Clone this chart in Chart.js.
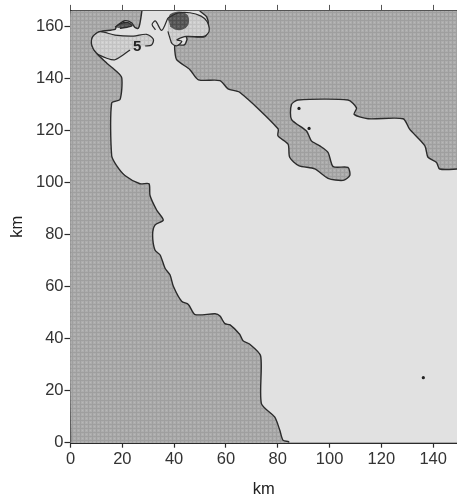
<!DOCTYPE html>
<html>
<head>
<meta charset="utf-8">
<script src="https://cdn.jsdelivr.net/npm/chart.js@4/dist/chart.umd.min.js"></script>
<style>
  body { margin: 0; background: #fff; }
  canvas { display: block; }
</style>
</head>
<body>
<canvas id="myChart" width="457" height="499"></canvas>
<script>
// all values in km
const xTicks = [0, 20, 40, 60, 80, 100, 120, 140];
const yTicks = [0, 20, 40, 60, 80, 100, 120, 140, 160];

const westLand = [
  [0, 0], [0, 167], [27.5, 167], [27.5, 165.7], [26.8, 161.3], [26.2, 159.4], [24.9, 159.7], [23.6, 161.5],
  [21, 162.3], [17.8, 160.2], [17.2, 159], [11.4, 158.1], [8.6, 156.2], [8.2, 153], [10.1, 149.8], [14, 146],
  [17.8, 142.8], [19.8, 140.3], [19.1, 132], [15.9, 130.7], [15.9, 110.4], [17.8, 106.6], [21, 102.8], [26.8, 99.6],
  [30.3, 99.6], [30.7, 95.1], [33.3, 89.4], [35.8, 85.6], [32.6, 83.7], [31.7, 79.9], [32.6, 74.1], [34.6, 72.2],
  [36.5, 67.1], [38.4, 64.6], [39.7, 60.2], [42.9, 54.4], [45.5, 53.2], [48.1, 49.3], [55.8, 49.6], [57.7, 48.7],
  [59.6, 45.8], [61.6, 45.3], [65.3, 41.7], [66.6, 39.2], [69.2, 37.9], [73.4, 33.4], [73.7, 15], [78.8, 9.9],
  [80.8, 4.8], [82, 1], [84.2, 0.4], [84.2, 0]
];
const eastLand = [
  [150, 167], [50, 167], [50, 166], [52.6, 163.8], [53.2, 159.4], [51.9, 156.2], [44.8, 156.2], [45, 155.2],
  [43.9, 153], [40.4, 153], [40.3, 150.5], [41, 147.3], [46.1, 143.5], [49.4, 139.6], [57.7, 139.3], [60.8, 136.1],
  [65.3, 134.8], [80.1, 120.8], [80.1, 118], [84, 114.8], [84.6, 109.8], [88.1, 106.6], [94.3, 105.3], [99.4, 101.7],
  [105.2, 100.9], [107.8, 102.8], [107.1, 105.9], [101.4, 106.2], [99.4, 111.7], [96.2, 114.2], [93, 116.1], [91.1, 119.9],
  [85.3, 124.4], [85.3, 130.1], [87.8, 131.8], [107.1, 131.8], [110.4, 128.8], [109.5, 126.3], [114.9, 124.6], [128.4, 124.6],
  [130.9, 120.6], [136.8, 114.2], [138, 109.8], [141.3, 107.8], [142.5, 105.3], [150, 105.3]
];
const contourWest = [
  [28.8, 152.6], [31.3, 153], [32, 155.2], [29.4, 157.1], [24.3, 156.4], [17.2, 156.8], [11.4, 158.1], [8.6, 156.2],
  [8.2, 153], [10.1, 149.8], [14, 147.9], [17.2, 147.3], [23, 151.1]
];
const contourEast = [
  [37.6, 163.4], [41.5, 165.3], [46.1, 165.4], [50.4, 164.1], [52.7, 162], [53.5, 158.2], [51.5, 156.3], [44.6, 156.3],
  [41.1, 155], [43, 154.4], [41.1, 152.7], [39.2, 153.5], [38.4, 155.6], [37.6, 158.2]
];
const contourInlet = [[37.6, 163.4], [35.2, 158.6], [32.8, 162.2], [31.5, 160.9], [32.8, 158.8]];
const innerPatch = [[17.2, 159.8], [19.1, 161.1], [22.2, 161.6], [23.8, 160.4], [21.8, 159.8], [19.1, 159.4]];
const innerBlob = [
  [37.8, 162.5], [38.6, 164.6], [41, 165.5], [43.8, 165.2], [45.4, 163.4], [45.2, 160.8], [43.2, 159.2], [40.6, 159.1], [38.5, 160.3]
];
const stations = [[88.2, 128.6], [92.1, 120.9], [136.2, 25]];
const contourLabel = ['5'];
const contourLabelAt = [25.7, 152.1];

function toPoints(list) {
  return list.map(p => ({ x: p[0], y: p[1] }));
}

// halftone look of the printed figure: small dots on a mesh, not stripes
function stipple(base, dot, line) {
  const c = document.createElement('canvas');
  c.width = 4;
  c.height = 4;
  const g = c.getContext('2d');
  g.fillStyle = base;
  g.fillRect(0, 0, 4, 4);
  g.fillStyle = line;
  g.fillRect(0, 0, 4, 1);
  g.fillRect(0, 0, 1, 4);
  g.fillStyle = dot;
  g.fillRect(2, 2, 1, 1);
  return g.createPattern(c, 'repeat');
}

const ink = '#2b2b2b';
const landFill = stipple('#adadad', '#b8b8b8', '#9f9f9f');
const patchFill = stipple('#d0d0d0', '#dadada', '#c2c2c2');
const blobFill = stipple('#5e5e5e', '#707070', '#4e4e4e');

const background = {
  id: 'background',
  beforeDatasetsDraw(chart) {
    const a = chart.chartArea;
    chart.ctx.fillStyle = '#e1e1e1';
    chart.ctx.fillRect(a.left, a.top, a.right - a.left, a.bottom - a.top);
  }
};

const labels = {
  id: 'labels',
  afterDatasetsDraw(chart) {
    const ctx = chart.ctx;
    ctx.save();
    ctx.font = 'bold 15px "Liberation Sans"';
    ctx.fillStyle = '#222';
    ctx.textAlign = 'center';
    ctx.textBaseline = 'middle';
    ctx.fillText(contourLabel[0], chart.scales.x.getPixelForValue(contourLabelAt[0]), chart.scales.y.getPixelForValue(contourLabelAt[1]));
    ctx.restore();
  }
};

function area(list, color, line) {
  return { data: toPoints(list), showLine: true, fill: 'shape', backgroundColor: color, borderColor: line || ink, borderWidth: line === null ? 0 : 1.4, pointRadius: 0, tension: 0.25 };
}

function contour(list) {
  return { data: toPoints(list), showLine: true, fill: false, borderColor: ink, borderWidth: 1.2, pointRadius: 0, tension: 0.3 };
}

const axisFont = { family: '"Liberation Sans"', size: 16.5 };

new Chart(document.getElementById('myChart'), {
  type: 'scatter',
  data: {
    datasets: [
      { data: toPoints(stations), pointRadius: 1.6, pointBackgroundColor: '#222', pointBorderWidth: 0 },
      contour(contourInlet),
      contour(contourEast),
      contour(contourWest),
      area(innerBlob, blobFill, '#555'),
      area(innerPatch, blobFill),
      area(contourEast, patchFill, null),
      area(contourWest, patchFill, null),
      area(westLand, landFill),
      area(eastLand, landFill)
    ]
  },
  options: {
    responsive: false,
    animation: false,
    layout: { padding: 0, autoPadding: false },
    plugins: { legend: { display: false }, tooltip: { enabled: false } },
    scales: {
      x: {
        type: 'linear',
        min: 0,
        max: 149.2,
        afterBuildTicks: s => { s.ticks = xTicks.map(v => ({ value: v })); },
        afterFit: s => { s.height = 56.3; },
        grid: { drawOnChartArea: false, tickLength: 5, tickColor: ink, tickWidth: 1.2 },
        border: { display: true, color: ink, width: 2 },
        ticks: { color: '#333', font: axisFont, padding: 2, maxRotation: 0, autoSkip: false },
        title: { display: true, text: 'km', color: '#222', font: axisFont, padding: { top: 15, bottom: 0 } }
      },
      xTop: {
        type: 'linear',
        position: 'top',
        min: 0,
        max: 149.2,
        afterBuildTicks: s => { s.ticks = xTicks.map(v => ({ value: v })); },
        afterFit: s => { s.height = 7.3; },
        grid: { drawOnChartArea: false, tickLength: 6, tickColor: '#555', tickWidth: 1 },
        border: { display: true, color: '#444', width: 1 },
        ticks: { display: false }
      },
      y: {
        type: 'linear',
        min: 0,
        max: 166.1,
        afterBuildTicks: s => { s.ticks = yTicks.map(v => ({ value: v })); },
        afterFit: s => { s.width = 70.5; },
        grid: { drawOnChartArea: false, tickLength: 6, tickColor: ink, tickWidth: 1.2 },
        border: { display: true, color: ink, width: 2 },
        ticks: { color: '#333', font: axisFont, padding: 1, autoSkip: false },
        title: { display: true, text: 'km', color: '#222', font: axisFont, padding: { top: 8, bottom: 0 } }
      }
    }
  },
  plugins: [background, labels]
});
</script>
</body>
</html>
